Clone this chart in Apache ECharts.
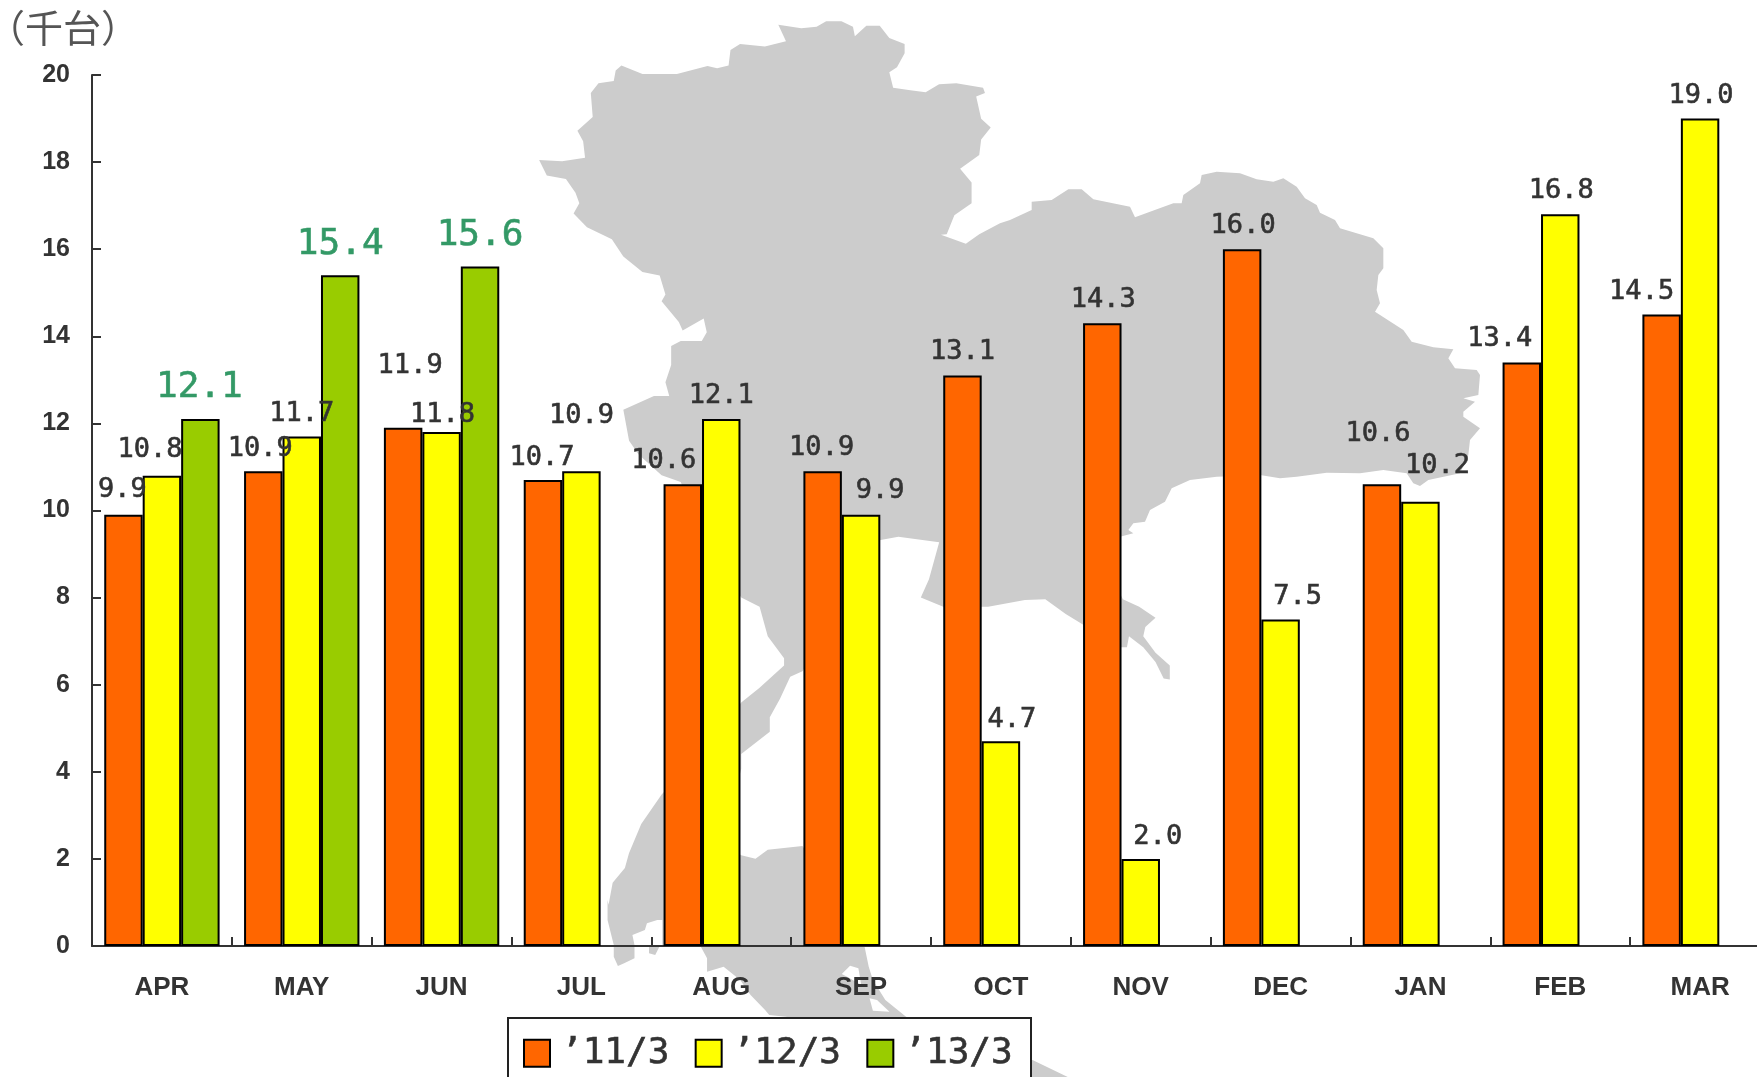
<!DOCTYPE html>
<html>
<head>
<meta charset="utf-8">
<title>chart</title>
<style>
  html, body { margin: 0; padding: 0; background: #fff; }
  #chart { width: 1757px; height: 1077px; }
</style>
<script src="https://cdn.jsdelivr.net/npm/echarts@6/dist/echarts.min.js"></script>
</head>
<body>
<div id="chart"></div>
<script>
const categories = ["APR", "MAY", "JUN", "JUL", "AUG", "SEP", "OCT", "NOV", "DEC", "JAN", "FEB", "MAR"];
const seriesNames = ["’11/3", "’12/3", "’13/3"];
const values11 = [9.9, 10.9, 11.9, 10.7, 10.6, 10.9, 13.1, 14.3, 16.0, 10.6, 13.4, 14.5];
const values12 = [10.8, 11.7, 11.8, 10.9, 12.1, 9.9, 4.7, 2.0, 7.5, 10.2, 16.8, 19.0];
const values13 = [12.1, 15.4, 15.6, null, null, null, null, null, null, null, null, null];
const yTicks = { min: 0, max: 20, interval: 2 };

// hand placed labels, px from the default spot above the bar
const shift11 = [[-1, 0], [-3, 2], [7, -37], [-1, 2], [-19, 1], [-1, 1], [0, 1], [1, 1], [1, 1], [-4, -26], [-22, 1], [-20, 2]];
const shift12 = [[-12, -1], [0, 2], [1, 7], [0, -31], [0, 1], [19, 1], [11, 3], [17, 3], [17, 2], [17, -11], [1, 1], [1, 2]];
const shift13 = [[-1, 0], [0, 0], [0, 0]];

// grey map behind the plot, traced in the coordinates of crops of the picture
function crop(ox, oy, sx, sy, pts) {
  return pts.map(function (p) { return [ox + p[0] / sx, oy + p[1] / sy]; });
}
const z3 = function (pts) { return crop(520, 0, 2.613, 2.904, pts); };
const z4 = function (pts) { return crop(1000, 140, 3, 3, pts); };
const z5 = function (pts) { return crop(580, 500, 2.45, 2.717, pts); };
const z2 = function (pts) { return crop(450, 900, 2.412, 3, pts); };

const mapOutline = [].concat(
  z3([[675, 72], [735, 82], [775, 78], [800, 62], [840, 62], [870, 78], [875, 105], [905, 75], [940, 75], [965, 110], [1005, 128], [1005, 155], [985, 195], [965, 210], [975, 255], [1020, 262], [1060, 268], [1095, 245], [1140, 242], [1210, 255], [1215, 270], [1192, 280], [1205, 345], [1230, 370], [1205, 405], [1200, 450], [1150, 490], [1180, 530], [1180, 590], [1135, 625], [1115, 680], [1100, 682], [1165, 708], [1200, 680]]),
  z4([[0, 250], [30, 240], [95, 210], [95, 185], [155, 180], [205, 148], [245, 148], [280, 178], [390, 200], [405, 232], [450, 215], [520, 190], [545, 190], [550, 165], [600, 130], [605, 105], [650, 95], [720, 100], [770, 118], [820, 125], [850, 115], [890, 140], [915, 175], [950, 195], [960, 218], [1005, 240], [1020, 265], [1120, 295], [1150, 325], [1150, 385], [1135, 405], [1130, 450], [1140, 490], [1125, 515], [1210, 570], [1235, 605], [1300, 622], [1360, 628], [1345, 655], [1365, 685], [1430, 690], [1440, 705], [1435, 765], [1390, 775], [1425, 785], [1390, 815], [1390, 830], [1440, 865], [1410, 900], [1405, 945], [1380, 1000], [1285, 1020], [1260, 1038], [1240, 1030], [1220, 1000], [1150, 990], [1080, 1000], [980, 998], [890, 1010], [840, 1015], [780, 1005], [650, 1010], [570, 1020], [515, 1045], [495, 1085], [450, 1110], [435, 1145], [400, 1150], [385, 1170], [400, 1180], [360, 1190]]),
  z5([[1300, 200], [1330, 270], [1370, 290], [1410, 320], [1385, 345], [1380, 370], [1410, 415], [1445, 450], [1445, 488], [1430, 485], [1410, 440], [1380, 400], [1345, 370], [1340, 400], [1300, 400], [1235, 340], [1190, 310], [1140, 270], [1090, 272], [1000, 290], [890, 290], [835, 265], [855, 215], [880, 115], [780, 100], [730, 110], [640, 300], [545, 465], [515, 480], [490, 540], [465, 590], [465, 630], [395, 690], [395, 730], [380, 800], [300, 900], [395, 965], [430, 975], [460, 950], [545, 940], [640, 1100]]),
  z2([[1000, 140], [1010, 200], [1020, 240], [1050, 300], [1100, 350], [1300, 440], [1405, 480], [1490, 531], [1490, 600], [1380, 600], [1380, 500], [810, 350], [770, 345], [760, 330], [725, 285], [700, 240], [660, 200], [620, 215], [620, 175], [605, 140], [505, 140], [495, 165], [480, 160], [480, 135], [445, 135], [445, 175], [420, 190], [405, 198], [395, 170], [395, 135], [380, 60], [380, 0]]),
  z5([[70, 1100], [80, 1040], [110, 1000], [120, 960], [150, 880], [200, 800], [300, 680], [395, 550], [440, 510], [500, 450], [500, 430], [460, 370], [440, 290], [395, 265], [300, 100]]),
  z3([[420, 1400], [370, 1380], [310, 1320], [285, 1280], [270, 1190], [350, 1150], [390, 1150], [380, 1110], [395, 1060], [395, 1005], [420, 990], [475, 990], [488, 965], [480, 925], [425, 960], [415, 935], [370, 875], [380, 855], [365, 800], [320, 790], [270, 745], [240, 695], [175, 660], [140, 620], [155, 590], [145, 560], [120, 520], [70, 510], [50, 465], [110, 468], [170, 458], [165, 410], [150, 380], [190, 340], [185, 270], [205, 242], [245, 235], [250, 205], [265, 190], [320, 215], [410, 215], [490, 192], [515, 198], [545, 190], [550, 145], [575, 128], [640, 135], [695, 120]])
);
// small white inlets cut out of the map
const mapInlets = [
  z2([[440, 105], [470, 90], [475, 70], [500, 60], [512, 60], [512, 135], [445, 135]]),
  z2([[945, 222], [965, 197], [985, 205], [992, 255], [960, 232]]),
  z2([[1012, 295], [1030, 300], [1060, 335], [1020, 332]])
];

function mapPart(points, color) {
  return { type: "polygon", silent: true, shape: { points: points }, style: { fill: color } };
}

function barSeries(name, values, shifts, color, labelColor, fontSize, distance) {
  return {
    name: name,
    type: "bar",
    barGap: 0,
    barCategoryGap: "17.5%",
    itemStyle: { color: color, borderColor: "#000", borderWidth: 2 },
    label: {
      show: true,
      position: "top",
      distance: distance,
      fontFamily: "DejaVu Sans Mono",
      fontSize: fontSize,
      color: labelColor,
      textBorderColor: labelColor,
      textBorderWidth: 0.6,
      formatter: function (p) { return p.value.toFixed(1); }
    },
    labelLayout: function (p) {
      const s = shifts[p.dataIndex] || [0, 0];
      return { dx: s[0], dy: s[1] };
    },
    data: values
  };
}

const myChart = echarts.init(document.getElementById("chart"));
myChart.setOption({
  animation: false,
  backgroundColor: "#fff",
  title: {
    text: "（千台）",
    left: -18,
    top: 4,
    textStyle: { fontFamily: "Noto Sans CJK JP", fontWeight: "normal", fontSize: 38, color: "#555" }
  },
  graphic: { elements: [mapPart(mapOutline, "#cccccc")].concat(mapInlets.map(function (p) { return mapPart(p, "#fff"); })) },
  grid: { left: 92, top: 75, width: 1678, height: 871, outerBoundsMode: "none" },
  legend: {
    left: 508,
    top: 1018,
    selectedMode: false,
    backgroundColor: "#fff",
    borderColor: "#222",
    borderWidth: 2,
    padding: [17, 18, 34, 15],
    itemWidth: 26,
    itemHeight: 27,
    itemGap: 25,
    icon: "rect",
    z: 6,
    textStyle: { fontFamily: "DejaVu Sans Mono", fontSize: 36, color: "#333", textBorderColor: "#333", textBorderWidth: 0.6, padding: [8, 0, 0, 6] },
    data: seriesNames
  },
  xAxis: {
    type: "category",
    data: categories,
    axisLine: { lineStyle: { color: "#333", width: 2 } },
    axisTick: { show: true, inside: true, length: 9, lineStyle: { color: "#333", width: 2 } },
    axisLabel: { margin: 29, interval: 0, fontFamily: "Liberation Sans", fontWeight: "bold", fontSize: 26, color: "#333" }
  },
  yAxis: {
    type: "value",
    min: yTicks.min,
    max: yTicks.max,
    interval: yTicks.interval,
    splitLine: { show: false },
    axisLine: { show: true, lineStyle: { color: "#333", width: 2 } },
    axisTick: { show: true, inside: true, length: 9, lineStyle: { color: "#333", width: 2 } },
    axisLabel: { margin: 22, padding: [2, 0, 0, 0], fontFamily: "Liberation Sans", fontWeight: "bold", fontSize: 25, color: "#333" }
  },
  series: [
    barSeries(seriesNames[0], values11, shift11, "#ff6600", "#333", 27, 11),
    barSeries(seriesNames[1], values12, shift12, "#ffff00", "#333", 27, 11),
    barSeries(seriesNames[2], values13, shift13, "#99cc00", "#339966", 36, 13)
  ]
});
</script>
</body>
</html>
